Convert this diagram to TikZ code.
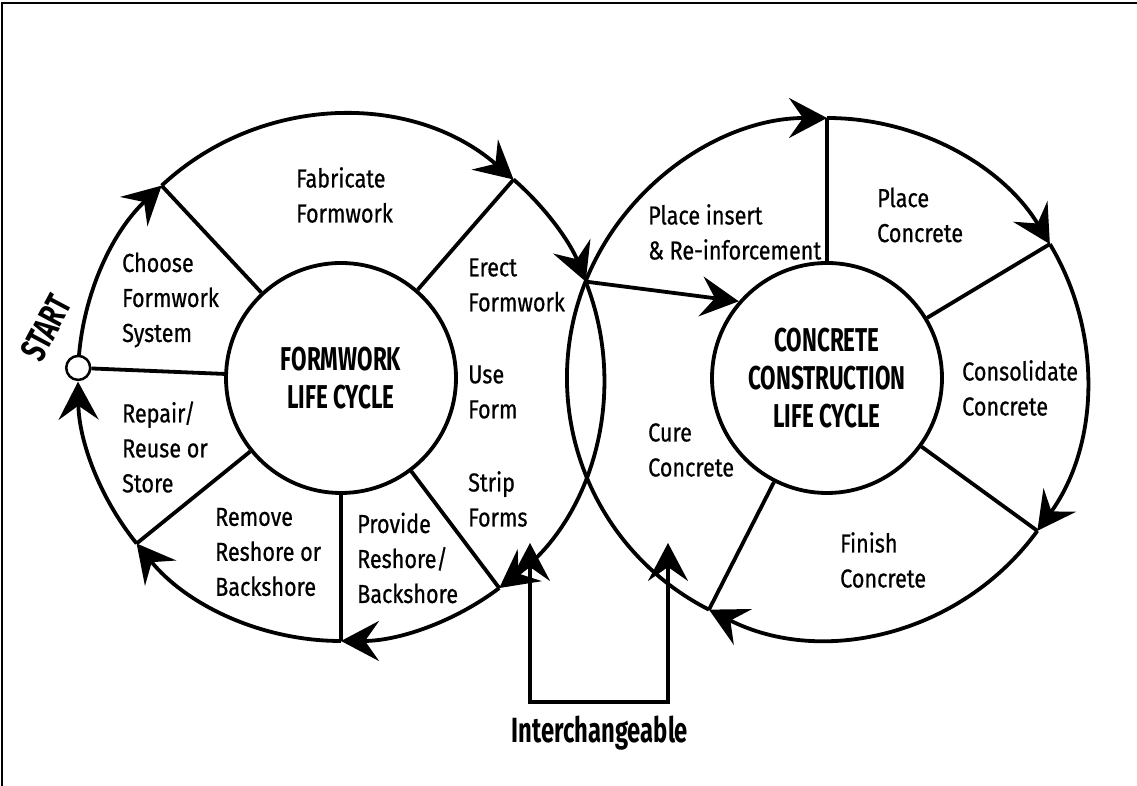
\documentclass[tikz,border=0pt]{standalone}
\usepackage{fontspec}
\setmainfont{Fira Sans}[FakeStretch=0.83, FakeBold=0.6]
\newfontfamily\hubfont{Fira Sans}[FakeStretch=0.68]
\usetikzlibrary{arrows.meta,calc}

\begin{document}
\begin{tikzpicture}[
	%	style def
    x=1pt, y=1pt,
    cycle line/.style={line width=3.8pt},
    flow arrow/.style={cycle line, -{Stealth[length=38pt, width=40pt, inset=14pt, fill=black]}},
    swap arrow/.style={cycle line, {Stealth[length=38pt, width=40pt, inset=14pt, fill=black]}-{Stealth[length=38pt, width=40pt, inset=14pt, fill=black]}},
    hub/.style={circle, draw, cycle line, minimum size=230pt, inner sep=0pt, align=center,
                font=\hubfont\bfseries\fontsize{33}{38}\selectfont},
    step text/.style={anchor=west, align=left, inner sep=0pt, font=\fontsize{26}{35}\selectfont}
    ]
	\useasboundingbox (0,0) rectangle (1137,786);
	% frame
	\draw[line width=2.5pt] (2,0) -- (2,783) -- (1137,783);

	% formwork life cycle
	\coordinate (FL) at (341,408);
	\node[hub] (formwork) at (FL) {FORMWORK\\LIFE CYCLE};
	\foreach \a in {133,49,307,270,219}
		\draw[cycle line] (formwork.\a) -- ($(FL)+(\a:263)$);
	\foreach \a/\b in {177.8/133, 133/49, 49/21.5, 21.5/-53, -53/-90, -90/-141, -141/-179.2}
		\draw[flow arrow] ($(FL)+(\a:263)$) arc[start angle=\a, end angle=\b, radius=263];
	\node[circle, draw, fill=white, line width=2.5pt, minimum size=24pt, inner sep=0pt] (start) at ($(FL)+(177.8:263)$) {};
	\draw[cycle line] (formwork.178) -- (start);
	\node[rotate=62, inner sep=0pt, font=\hubfont\bfseries\fontsize{36}{40}\selectfont] (startlabel) at (46,458) {START};

	\node[step text] (choose) at (122,486) {Choose\\Formwork\\System};
	\node[step text] (fabricate) at (296,591) {Fabricate\\Formwork};
	\node[step text] (erect) at (468,501) {Erect\\Formwork};
	\node[step text] (use) at (468,394) {Use\\Form};
	\node[step text] (strip) at (468,287) {Strip\\Forms};
	\node[step text] (provide) at (357,228) {Provide\\Reshore/\\Backshore};
	\node[step text] (remove) at (215,234) {Remove\\Reshore or\\Backshore};
	\node[step text] (repair) at (122,339) {Repair/\\Reuse or\\Store};

	% concrete construction life cycle
	\coordinate (CC) at (827,408);
	\node[hub] (concrete) at (CC) {CONCRETE\\CONSTRUCTION\\LIFE CYCLE};
	\foreach \a in {90,31,324,243}
		\draw[cycle line] (concrete.\a) -- ($(CC)+(\a:260)$);
	\foreach \a/\b in {243/90, 90/31, 31/-36, -36/-117}
		\draw[flow arrow] ($(CC)+(\a:260)$) arc[start angle=\a, end angle=\b, radius=260];

	\node[step text] (insert) at (648,554) {Place insert\\\& Re-inforcement};
	\node[step text] (place) at (877,571) {Place\\Concrete};
	\node[step text] (consolidate) at (962,398) {Consolidate\\Concrete};
	\node[step text] (finish) at (840,226) {Finish\\Concrete};
	\node[step text] (cure) at (648,336) {Cure\\Concrete};

	% hand over from erect formwork
	\coordinate (xing) at ($(FL)+(21.5:263)$);
	\draw[flow arrow] (xing) -- (concrete.139);

	% interchangeable steps
	\node[font=\hubfont\bfseries\fontsize{35}{38}\selectfont] (swap) at (600,53) {Interchangeable};
	\coordinate (swapTL) at (530,243);
	\coordinate (swapBL) at (530,84);
	\coordinate (swapBR) at (668,84);
	\coordinate (swapTR) at (668,243);
	\draw[swap arrow] (swapTL) -- (swapBL) -- (swapBR) -- (swapTR);
\end{tikzpicture}
\end{document}
